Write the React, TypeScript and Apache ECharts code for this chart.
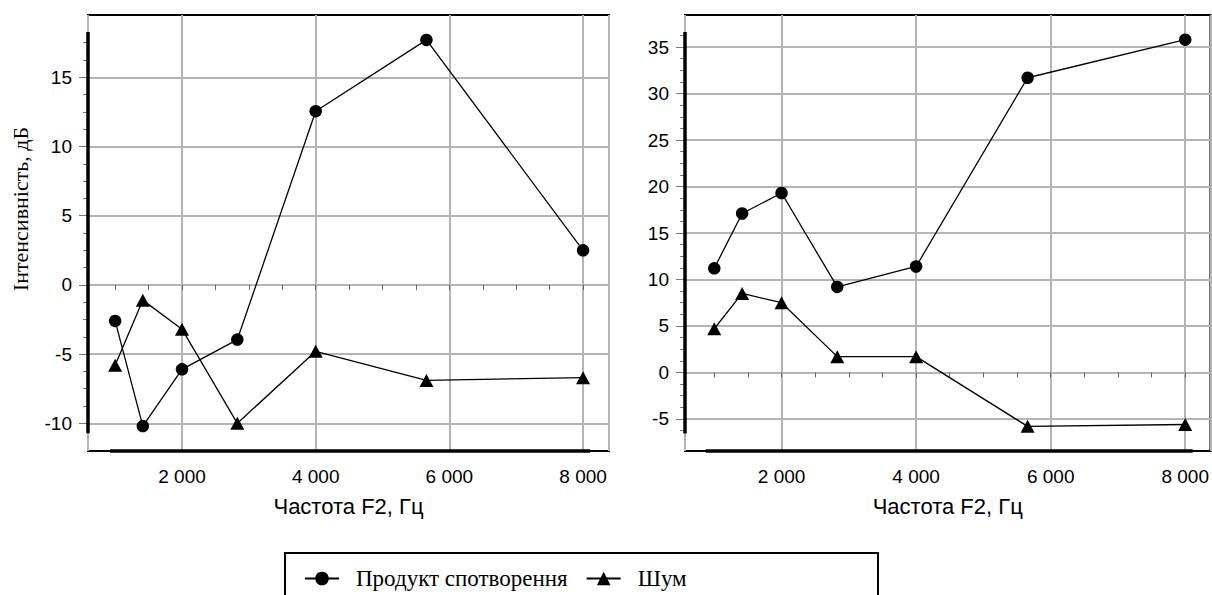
import React, { useEffect, useRef } from "react";
import * as echarts from "echarts";

// ---- data ----
const freqs = [1000, 1414, 2000, 2828, 4000, 5657, 8000];
const leftProduct = [-2.6, -10.2, -6.1, -3.95, 12.55, 17.7, 2.5];
const leftNoise = [-5.8, -1.1, -3.2, -10.0, -4.8, -6.9, -6.7];
const rightProduct = [11.2, 17.1, 19.3, 9.2, 11.4, 31.7, 35.8];
const rightNoise = [4.7, 8.5, 7.5, 1.7, 1.7, -5.8, -5.6];

const seriesNames = ["Продукт спотворення", "Шум"];
const xAxisTitle = "Частота F2, Гц";
const yAxisTitle = "Інтенсивність, дБ";

// ---- tick values ----
const xLabelTicks = [2000, 4000, 6000, 8000];
const xMinorTicks = [1000, 1500, 2000, 2500, 3000, 3500, 4000, 4500, 5000, 5500, 6000, 6500, 7000, 7500, 8000];
const leftYTicks = [-10, -5, 0, 5, 10, 15];
const leftYMinorTicks = [-10, -8.75, -7.5, -6.25, -5, -3.75, -2.5, -1.25, 0, 1.25, 2.5, 3.75, 5, 6.25, 7.5, 8.75, 10, 11.25, 12.5, 13.75, 15, 16.25, 17.5];
const rightYTicks = [-5, 0, 5, 10, 15, 20, 25, 30, 35];
const rightYMinorTicks = [-6.25, -5, -3.75, -2.5, -1.25, 0, 1.25, 2.5, 3.75, 5, 6.25, 7.5, 8.75, 10, 11.25, 12.5, 13.75, 15, 16.25, 17.5, 18.75, 20, 21.25, 22.5, 23.75, 25, 26.25, 27.5, 28.75, 30, 31.25, 32.5, 33.75, 35, 36.25];

// ---- axis ranges ----
const leftXRange = [594, 8388];
const rightXRange = [565, 8375];
const leftYRange = [-12, 19.5];
const rightYRange = [-8.45, 38.45];

// ---- range-frame (thick partial axis lines) extents ----
const leftFrameX = [923, 8105];
const leftFrameY = [-10.72, 18.27];
const rightFrameX = [875, 8110];
const rightFrameY = [-6.56, 36.62];

const SANS = '"Liberation Sans", Arial, sans-serif';
const SERIF = '"Liberation Serif", "Times New Roman", serif';

const fmtThousands = (v: number) => String(v).replace(/\B(?=(\d{3})+(?!\d))/g, " ");

function mainX(gridIndex: number, range: number[], showName: boolean) {
  return {
    type: "value",
    gridIndex,
    position: "bottom",
    min: range[0],
    max: range[1],
    splitNumber: 4,
    axisLine: { show: false },
    axisTick: { show: false },
    axisLabel: {
      show: true,
      customValues: xLabelTicks,
      formatter: (v: number) => fmtThousands(v),
      fontFamily: SANS,
      fontSize: 19,
      color: "#000",
      margin: 16,
    },
    splitLine: { show: true, lineStyle: { color: "#b4b4b4", width: 2 } },
    name: showName ? xAxisTitle : "",
    nameLocation: "middle",
    nameGap: 44,
    nameTextStyle: { fontFamily: SANS, fontSize: 22, color: "#000" },
  };
}

function minorX(gridIndex: number, range: number[]) {
  return {
    type: "value",
    gridIndex,
    position: "bottom",
    min: range[0],
    max: range[1],
    axisLine: { show: false },
    axisTick: { show: true, customValues: xMinorTicks, length: 5, lineStyle: { color: "#666", width: 1 } },
    axisLabel: { show: false },
    splitLine: { show: false },
  };
}

function mainY(gridIndex: number, range: number[], ticks: number[], splitNumber: number) {
  return {
    type: "value",
    gridIndex,
    position: "left",
    min: range[0],
    max: range[1],
    splitNumber,
    axisLine: { show: false },
    axisTick: { show: true, customValues: ticks, length: 9, lineStyle: { color: "#777", width: 1 } },
    axisLabel: {
      show: true,
      customValues: ticks,
      fontFamily: SANS,
      fontSize: 19,
      color: "#000",
      margin: 16,
    },
    splitLine: { show: true, lineStyle: { color: "#b4b4b4", width: 2 } },
  };
}

function minorY(gridIndex: number, range: number[], ticks: number[]) {
  return {
    type: "value",
    gridIndex,
    position: "left",
    min: range[0],
    max: range[1],
    axisLine: { show: false },
    axisTick: { show: true, customValues: ticks, length: 5, lineStyle: { color: "#777", width: 1 } },
    axisLabel: { show: false },
    splitLine: { show: false },
  };
}

function pairs(xs: number[], ys: number[]) {
  return xs.map((x, i) => [x, ys[i]]);
}

function dataSeries(name: string, xi: number, yi: number, values: number[], symbol: string) {
  return {
    name,
    type: "line",
    xAxisIndex: xi,
    yAxisIndex: yi,
    data: pairs(freqs, values),
    symbol,
    symbolSize: symbol === "circle" ? 12.5 : [14, 13],
    itemStyle: { color: "#000" },
    lineStyle: { color: "#000", width: 1.3 },
    z: 5,
  };
}

function frameSeries(xi: number, yi: number, pts: number[][]) {
  return {
    name: "frame",
    type: "line",
    xAxisIndex: xi,
    yAxisIndex: yi,
    data: pts,
    symbol: "none",
    clip: false,
    silent: true,
    lineStyle: { color: "#000", width: 3.5 },
    z: 4,
  };
}

export default function App() {
  const ref = useRef<HTMLDivElement>(null);
  useEffect(() => {
    if (!ref.current) return;
    const chart = echarts.init(ref.current, undefined, { renderer: "svg" });
    chart.setOption({
      animation: false,
      backgroundColor: "#fff",
      grid: [
        { left: 88, top: 15, width: 521, height: 436, show: true, borderColor: "#000", borderWidth: 2, backgroundColor: "transparent" },
        { left: 685, top: 15, width: 529, height: 436, show: true, borderColor: "#000", borderWidth: 2, backgroundColor: "transparent" },
      ],
      xAxis: [
        mainX(0, leftXRange, true),
        minorX(0, leftXRange),
        mainX(1, rightXRange, true),
        minorX(1, rightXRange),
      ],
      yAxis: [
        mainY(0, leftYRange, leftYTicks, 6),
        minorY(0, leftYRange, leftYMinorTicks),
        mainY(1, rightYRange, rightYTicks, 9),
        minorY(1, rightYRange, rightYMinorTicks),
      ],
      legend: {
        data: seriesNames,
        left: 299,
        top: 562,
        itemWidth: 34,
        itemHeight: 17,
        itemGap: 18,
        selectedMode: false,
        textStyle: { fontFamily: SERIF, fontSize: 23, color: "#000", padding: [0, 0, 0, 12] },
        lineStyle: { width: 2 },
      },
      graphic: [
        {
          type: "rect",
          silent: true,
          shape: { x: 285, y: 553, width: 593, height: 60 },
          style: { fill: "none", stroke: "#000", lineWidth: 2 },
        },
        {
          type: "text",
          x: 20,
          y: 209,
          rotation: Math.PI / 2,
          silent: true,
          style: {
            text: yAxisTitle,
            font: `22px ${SERIF}`,
            align: "center",
            verticalAlign: "middle",
            fill: "#000",
          },
        },
      ],
      series: [
        dataSeries(seriesNames[0], 0, 0, leftProduct, "circle"),
        dataSeries(seriesNames[1], 0, 0, leftNoise, "triangle"),
        dataSeries(seriesNames[0], 2, 2, rightProduct, "circle"),
        dataSeries(seriesNames[1], 2, 2, rightNoise, "triangle"),
        frameSeries(0, 0, [[leftFrameX[0], leftYRange[0]], [leftFrameX[1], leftYRange[0]]]),
        frameSeries(0, 0, [[leftXRange[0], leftFrameY[0]], [leftXRange[0], leftFrameY[1]]]),
        frameSeries(2, 2, [[rightFrameX[0], rightYRange[0]], [rightFrameX[1], rightYRange[0]]]),
        frameSeries(2, 2, [[rightXRange[0], rightFrameY[0]], [rightXRange[0], rightFrameY[1]]]),
      ],
    });
    return () => chart.dispose();
  }, []);
  return (
    <div
      ref={ref}
      style={{ position: "fixed", left: 0, top: 0, width: 1212, height: 595, background: "#fff" }}
    />
  );
}
